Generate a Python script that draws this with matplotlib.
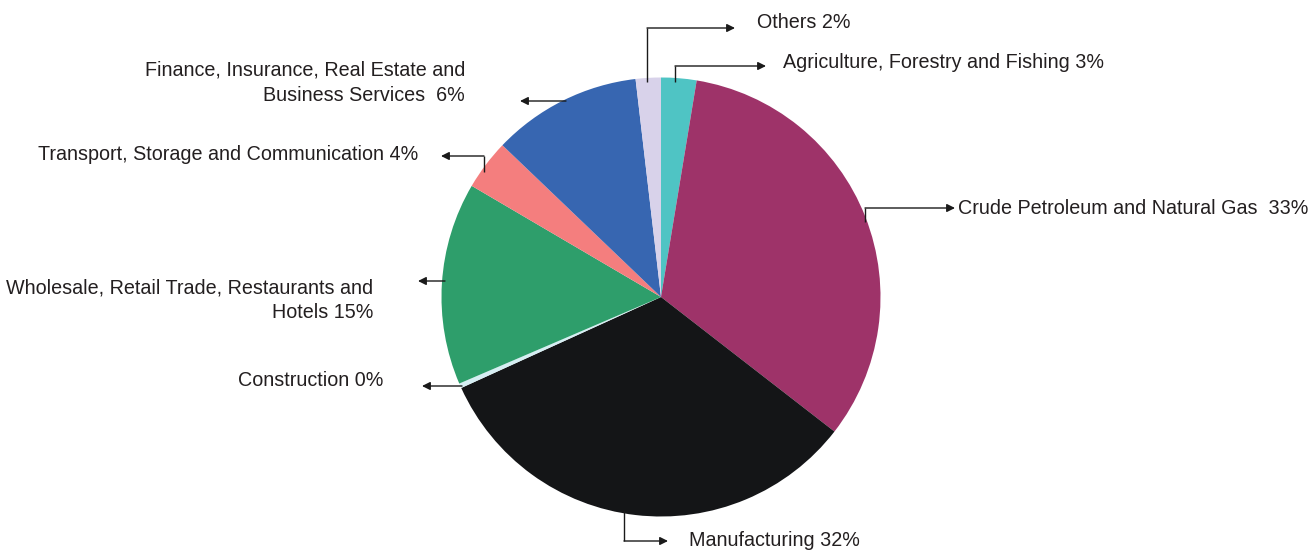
import matplotlib
matplotlib.use("Agg")
import matplotlib.pyplot as plt

# sector shares (clockwise from 12 o'clock)
sectors = ["Agriculture", "Crude", "Manufacturing", "Construction",
           "Wholesale", "Transport", "Finance", "Others"]
shares = [2.6, 32.9, 32.7, 0.35, 14.9, 3.7, 11.0, 1.85]
labels = ["Agriculture, Forestry and Fishing 3%",
          "Crude Petroleum and Natural Gas  33%",
          "Manufacturing 32%",
          "Construction 0%",
          "Wholesale, Retail Trade, Restaurants and\nHotels 15%",
          "Transport, Storage and Communication 4%",
          "Finance, Insurance, Real Estate and\nBusiness Services  6%",
          "Others 2%"]
colors = ["#4fc4c4", "#9e3369", "#141517", "#d6eef3",
          "#2e9e6b", "#f47e7e", "#3766b1", "#d8d2ea"]

# layout in pixel coords: connector path (last point = arrow tip), text anchor, alignment
paths = [[(675, 82), (675, 66), (766, 66)],
         [(865, 222), (865, 208), (955, 208)],
         [(624, 510), (624, 541), (668, 541)],
         [(462, 386), (422, 386)],
         [(445, 281), (418, 281)],
         [(484, 172), (484, 156), (441, 156)],
         [(566, 101), (520, 101)],
         [(647, 82), (647, 28), (735, 28)]]
text_pos = [(783, 62, "left"), (958, 208, "left"), (689, 541, "left"),
            (383, 381, "right"), (373, 300, "right"), (418, 155, "right"),
            (465, 83, "right"), (757, 23, "left")]

W, H = 1313, 551
fig = plt.figure(figsize=(W / 100, H / 100), dpi=100)
ax = fig.add_axes([0, 0, 1, 1])

# y axis runs downward, so counterclock in data space is clockwise on screen
ax.pie(shares, colors=colors, startangle=-90, counterclock=True,
       center=(661, 297), radius=219.5, wedgeprops=dict(linewidth=0))
ax.set_xlim(0, W)
ax.set_ylim(H, 0)
ax.set_aspect("equal")
ax.axis("off")

font = ["Liberation Sans", "DejaVu Sans"]
for lab, path, (tx, ty, ha) in zip(labels, paths, text_pos):
    xs = [p[0] for p in path]
    ys = [p[1] for p in path]
    ax.plot(xs[:-1], ys[:-1], color="#1a1a1a", lw=1.0, solid_capstyle="butt")
    ax.annotate("", xy=path[-1], xytext=path[-2],
                arrowprops=dict(arrowstyle="-|>", color="#1a1a1a", lw=1.0,
                                mutation_scale=12, shrinkA=0, shrinkB=0))
    ax.text(tx, ty, lab, ha=ha, va="center", fontsize=14.2, color="#231f20",
            family=font, linespacing=1.4, multialignment=ha)

fig.savefig("out.png", dpi=100)
